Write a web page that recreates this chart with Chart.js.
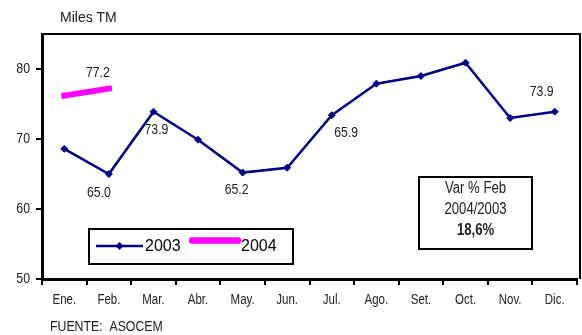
<!DOCTYPE html>
<html>
<head>
<meta charset="utf-8">
<script src="https://cdn.jsdelivr.net/npm/chart.js@4"></script>
<style>
  body { margin: 0; background: #fff; }
  canvas { display: block; }
</style>
</head>
<body>
<canvas id="despachos" width="582" height="335"></canvas>
<script>
// ========== DATOS ==========
const meses = ["Ene.", "Feb.", "Mar.", "Abr.", "May.", "Jun.", "Jul.", "Ago.", "Set.", "Oct.", "Nov.", "Dic."];
const serie2003 = [68.6, 65.0, 73.9, 69.9, 65.2, 65.9, 73.4, 77.9, 79.0, 80.9, 73.0, 73.9];
const serie2004 = [76.2, 77.2];
const ticksY = [50, 60, 70, 80];

const AZUL = "#000080";
const FUCSIA = "#ff00ff";
const TEXTO = "#222";
const ARIAL = "'Liberation Sans', Arial, sans-serif";
const ANGOSTO = 0.82; // compresión horizontal tipo Arial Narrow

// etiquetas de valor: dataset, índice y desplazamiento respecto al punto
const etiquetas = [
    { ds: 0, i: 1, dx: -10, dy: 19 },
    { ds: 0, i: 2, dx: 3, dy: 18 },
    { ds: 0, i: 4, dx: -6, dy: 17 },
    { ds: 0, i: 5, dx: 59, dy: -35 },
    { ds: 0, i: 11, dx: -13, dy: -20 },
    { ds: 1, i: 1, dx: -11, dy: -16 },
];

// texto comprimido horizontalmente
function angosto(ctx, txt, x, y, align) {
    ctx.save();
    ctx.translate(x, y);
    ctx.scale(ANGOSTO, 1);
    ctx.textAlign = align;
    ctx.fillText(txt, 0, 0);
    ctx.restore();
}

// ========== PLUGIN: marco, textos, leyenda y recuadro ==========
const extras = {
    id: "extras",
    afterDatasetsDraw(chart) {
        const ctx = chart.ctx;
        const a = chart.chartArea;
        ctx.save();
        // borde superior y derecho
        ctx.strokeStyle = "#000";
        ctx.lineWidth = 2;
        ctx.beginPath();
        ctx.moveTo(a.left, 34);
        ctx.lineTo(580, 34);
        ctx.lineTo(580, a.bottom);
        ctx.stroke();

        ctx.fillStyle = TEXTO;
        ctx.textBaseline = "middle";

        // etiquetas de los ejes
        ctx.font = "14px " + ARIAL;
        const sx = chart.scales.x;
        sx.ticks.forEach((t, i) => {
            angosto(ctx, meses[i], sx.getPixelForTick(i), 300, "center");
        });
        ctx.font = "15px " + ARIAL;
        const sy = chart.scales.y;
        ticksY.forEach((v) => {
            angosto(ctx, String(v), 30, sy.getPixelForValue(v), "right");
        });

        // valores sobre los puntos
        ctx.font = "15px " + ARIAL;
        etiquetas.forEach((e) => {
            const pt = chart.getDatasetMeta(e.ds).data[e.i];
            const val = chart.data.datasets[e.ds].data[e.i];
            angosto(ctx, val.toFixed(1), pt.x + e.dx, pt.y + e.dy, "center");
        });

        // títulos
        ctx.textAlign = "left";
        ctx.font = "14px " + ARIAL;
        ctx.fillText("Miles TM", 60, 18);
        ctx.font = "15px " + ARIAL;
        angosto(ctx, "FUENTE:  ASOCEM", 50, 327, "left");

        // leyenda
        const ds = chart.data.datasets;
        ctx.lineWidth = 2;
        ctx.strokeStyle = "#000";
        ctx.strokeRect(89, 229, 204, 35);
        ctx.strokeStyle = ds[0].borderColor;
        ctx.lineWidth = ds[0].borderWidth;
        ctx.beginPath();
        ctx.moveTo(96, 246);
        ctx.lineTo(143, 246);
        ctx.stroke();
        ctx.fillStyle = ds[0].backgroundColor;
        ctx.beginPath();
        ctx.moveTo(119.5, 242);
        ctx.lineTo(123.5, 246);
        ctx.lineTo(119.5, 250);
        ctx.lineTo(115.5, 246);
        ctx.closePath();
        ctx.fill();
        ctx.strokeStyle = ds[1].borderColor;
        ctx.lineWidth = 6.5;
        ctx.lineCap = "round";
        ctx.beginPath();
        ctx.moveTo(192, 240.5);
        ctx.lineTo(238, 240.5);
        ctx.stroke();
        ctx.lineCap = "butt";
        ctx.fillStyle = "#000";
        ctx.font = "16px " + ARIAL;
        ctx.textAlign = "left";
        ctx.fillText(ds[0].label, 145, 247);
        ctx.fillText(ds[1].label, 241, 247);

        // recuadro de variación
        ctx.strokeStyle = "#000";
        ctx.lineWidth = 2;
        ctx.strokeRect(419, 177, 113, 72);
        ctx.fillStyle = TEXTO;
        ctx.font = "16px " + ARIAL;
        angosto(ctx, "Var % Feb", 475.5, 189, "center");
        angosto(ctx, "2004/2003", 475.5, 210, "center");
        ctx.font = "bold 16px " + ARIAL;
        angosto(ctx, "18,6%", 475.5, 231, "center");
        ctx.restore();
    },
};

// ========== GRÁFICO ==========
const ctx = document.getElementById("despachos").getContext("2d");
new Chart(ctx, {
    type: "line",
    data: {
        labels: meses,
        datasets: [{
            label: "2003",
            data: serie2003,
            borderColor: AZUL,
            backgroundColor: AZUL,
            borderWidth: 2.5,
            pointStyle: "rectRot",
            pointRadius: 3.5,
            pointBorderWidth: 1,
            tension: 0,
        }, {
            label: "2004",
            data: serie2004,
            borderColor: FUCSIA,
            backgroundColor: FUCSIA,
            borderWidth: 6,
            borderCapStyle: "square",
            pointRadius: 0,
            tension: 0,
        }],
    },
    options: {
        responsive: false,
        animation: false,
        layout: { padding: { top: 34, right: 1, bottom: 30, left: 0 } },
        plugins: { legend: { display: false }, tooltip: { enabled: false } },
        scales: {
            x: {
                offset: true,
                grid: { offset: true, drawOnChartArea: false, tickLength: 6, color: "#000", lineWidth: 2 },
                border: { color: "#000", width: 3 },
                ticks: { display: false, autoSkip: false },
                afterFit: (s) => { s.height = 26; },
            },
            y: {
                min: 50,
                max: 85,
                afterBuildTicks: (s) => { s.ticks = ticksY.map((v) => ({ value: v })); },
                grid: { drawOnChartArea: false, tickLength: 6, color: "#000", lineWidth: 2 },
                border: { color: "#000", width: 3 },
                ticks: { display: false },
                afterFit: (s) => { s.width = 42; },
            },
        },
    },
    plugins: [extras],
});
</script>
</body>
</html>
